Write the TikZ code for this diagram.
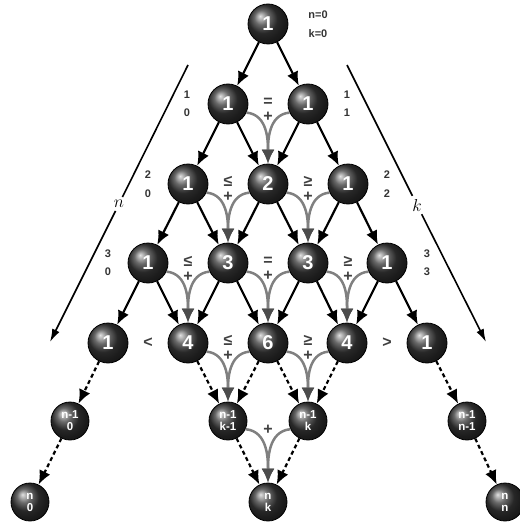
\documentclass[tikz,border=0pt]{standalone}
\usepackage{fontspec}
\setmainfont{Liberation Sans}
\usetikzlibrary{arrows.meta}
\begin{document}
\begin{tikzpicture}[x=1pt,y=-1pt,
 ball/.style={circle,minimum size=40pt,inner sep=0pt,shading=ball,ball color=black!78,draw=black,line width=0.8pt,text=white,font=\bfseries\fontsize{20}{20}\selectfont},
 sball/.style={ball,minimum size=38pt,font=\bfseries\fontsize{11.5}{12}\selectfont,align=center},
 lbl/.style={text=black!80,font=\bfseries\fontsize{11}{11}\selectfont,inner sep=0pt},
 rel/.style={text=black!75,font=\bfseries\fontsize{16}{16}\selectfont,inner sep=0pt},
 blk/.style={line width=2.2pt,-{Latex[length=14pt,width=12pt]}},
 dsh/.style={blk,dash pattern=on 4pt off 3pt},
 gry/.style={draw=black!50,line width=2.5pt,-{Latex[length=14pt,width=13pt,color=black!70]}},
 longln/.style={line width=1.6pt},
 longar/.style={longln,-{Latex[length=13pt,width=8pt]}},
 axlbl/.style={font=\fontsize{17}{17}\selectfont,inner sep=3pt}
]
\useasboundingbox (0,0) rectangle (519,524);
% main nodes
\node[ball] (r0c0) at (268,24) {1};
\node[ball] (r1c0) at (228,104) {1};
\node[ball] (r1c1) at (308,104) {1};
\node[ball] (r2c0) at (188,184) {1};
\node[ball] (r2c1) at (268,184) {2};
\node[ball] (r2c2) at (348,184) {1};
\node[ball] (r3c0) at (148,263) {1};
\node[ball] (r3c1) at (228,263) {3};
\node[ball] (r3c2) at (308,263) {3};
\node[ball] (r3c3) at (387,263) {1};
\node[ball] (r4c0) at (108,343) {1};
\node[ball] (r4c1) at (188,343) {4};
\node[ball] (r4c2) at (268,343) {6};
\node[ball] (r4c3) at (347,343) {4};
\node[ball] (r4c4) at (427,343) {1};
\node[sball] (r5c0) at (70,421) {n-1\\0};
\node[sball] (r5k1) at (228,421) {n-1\\k-1};
\node[sball] (r5k) at (308,421) {n-1\\k};
\node[sball] (r5n) at (467,421) {n-1\\n-1};
\node[sball] (r6c0) at (30,502) {n\\0};
\node[sball] (r6k) at (268,502) {n\\k};
\node[sball] (r6n) at (505,502) {n\\n};
% black straight edges
\foreach \i in {0,...,3}{
  \pgfmathtruncatemacro{\ni}{\i+1}
  \foreach \j in {0,...,\i}{
    \pgfmathtruncatemacro{\nj}{\j+1}
    \draw[blk] (r\i c\j) -- (r\ni c\j);
    \draw[blk] (r\i c\j) -- (r\ni c\nj);
  }
}
% dashed edges
\draw[dsh] (r4c0) -- (r5c0);
\draw[dsh] (r4c1) -- (r5k1);
\draw[dsh] (r4c2) -- (r5k1);
\draw[dsh] (r4c2) -- (r5k);
\draw[dsh] (r4c3) -- (r5k);
\draw[dsh] (r4c4) -- (r5n);
\draw[dsh] (r5c0) -- (r6c0);
\draw[dsh] (r5k1) -- (r6k);
\draw[dsh] (r5k) -- (r6k);
\draw[dsh] (r5n) -- (r6n);
% gray curved edges
\foreach \i in {1,...,3}{
  \pgfmathtruncatemacro{\ni}{\i+1}
  \foreach \j in {1,...,\i}{
    \pgfmathtruncatemacro{\pj}{\j-1}
    \draw[gry] (r\i c\pj.-25) to[out=-5,in=90] (r\ni c\j.north);
    \draw[gry] (r\i c\j.-155) to[out=185,in=90] (r\ni c\j.north);
  }
}
\draw[gry] (r4c1.-25) to[out=-5,in=90] (r5k1.north);
\draw[gry] (r4c2.-155) to[out=185,in=90] (r5k1.north);
\draw[gry] (r4c2.-25) to[out=-5,in=90] (r5k.north);
\draw[gry] (r4c3.-155) to[out=185,in=90] (r5k.north);
\draw[gry] (r5k1.-25) to[out=-5,in=90] (r6k.north);
\draw[gry] (r5k.-155) to[out=185,in=90] (r6k.north);
% relation symbols (relation above, plus below)
\node[rel] (s1) at (268,102) {=};
\node[rel] (p1) at (268,117) {+};
\node[rel] (s2a) at (228,181) {≤};
\node[rel] (p2a) at (228,197) {+};
\node[rel] (s2b) at (308,181) {≥};
\node[rel] (p2b) at (308,197) {+};
\node[rel] (s3a) at (188,261) {≤};
\node[rel] (p3a) at (188,277) {+};
\node[rel] (s3b) at (268,261) {=};
\node[rel] (p3b) at (268,276) {+};
\node[rel] (s3c) at (348,261) {≥};
\node[rel] (p3c) at (348,277) {+};
\node[rel] (s4a) at (148,343) {<};
\node[rel] (s4b) at (228,340) {≤};
\node[rel] (p4b) at (228,356) {+};
\node[rel] (s4c) at (308,340) {≥};
\node[rel] (p4c) at (308,356) {+};
\node[rel] (s4d) at (387,343) {>};
\node[rel] (s5) at (268,430) {+};
% small labels
\node[lbl] (ln0) at (318,15) {n=0};
\node[lbl] (lk0) at (318,34) {k=0};
\node[lbl] (l1a) at (187,95) {1};
\node[lbl] (l1b) at (187,113) {0};
\node[lbl] (l1c) at (347,95) {1};
\node[lbl] (l1d) at (347,113) {1};
\node[lbl] (l2a) at (148,175) {2};
\node[lbl] (l2b) at (148,194) {0};
\node[lbl] (l2c) at (387,175) {2};
\node[lbl] (l2d) at (387,194) {2};
\node[lbl] (l3a) at (108,254) {3};
\node[lbl] (l3b) at (108,272) {0};
\node[lbl] (l3c) at (427,254) {3};
\node[lbl] (l3d) at (427,272) {3};
% long axis arrows
\coordinate (nA) at (188,65);
\coordinate (nB) at (50,342);
\node[axlbl] (nl) at (119,204) {$n$};
\draw[longln] (nA) -- (nl);
\draw[longar] (nl) -- (nB);
\coordinate (kA) at (347,65);
\coordinate (kB) at (486,342);
\node[axlbl] (kl) at (417,205) {$k$};
\draw[longln] (kA) -- (kl);
\draw[longar] (kl) -- (kB);
\end{tikzpicture}
\end{document}
